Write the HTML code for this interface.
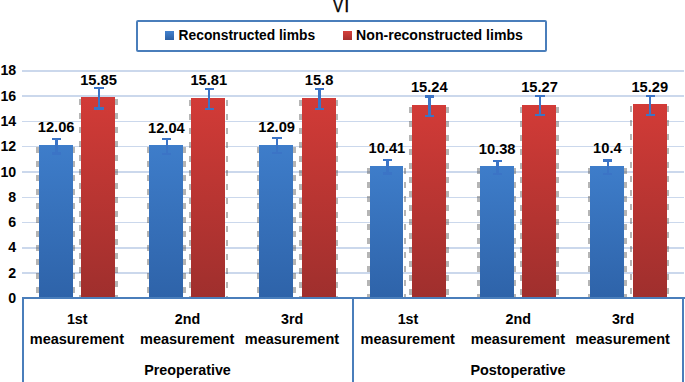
<!DOCTYPE html>
<html><head><meta charset="utf-8"><style>
html,body{margin:0;padding:0;background:#fff;}
body{width:685px;height:382px;overflow:hidden;position:relative;font-family:"Liberation Sans", sans-serif;}
.t{position:absolute;white-space:nowrap;}
.r{position:absolute;}
</style></head><body>
<div class="r" style="left:22.00px;top:272.40px;width:661.50px;height:1.60px;background:#cbd8ec;"></div>
<div class="r" style="left:22.00px;top:247.10px;width:661.50px;height:1.60px;background:#cbd8ec;"></div>
<div class="r" style="left:22.00px;top:221.80px;width:661.50px;height:1.60px;background:#cbd8ec;"></div>
<div class="r" style="left:22.00px;top:196.50px;width:661.50px;height:1.60px;background:#cbd8ec;"></div>
<div class="r" style="left:22.00px;top:171.20px;width:661.50px;height:1.60px;background:#cbd8ec;"></div>
<div class="r" style="left:22.00px;top:145.90px;width:661.50px;height:1.60px;background:#cbd8ec;"></div>
<div class="r" style="left:22.00px;top:120.60px;width:661.50px;height:1.60px;background:#cbd8ec;"></div>
<div class="r" style="left:22.00px;top:95.30px;width:661.50px;height:1.60px;background:#cbd8ec;"></div>
<div class="r" style="left:22.00px;top:70.00px;width:661.50px;height:1.60px;background:#cbd8ec;"></div>
<div class="t" style="left:-23.80px;top:291.08px;width:40px;font-size:14.2px;line-height:14.2px;text-align:right;font-weight:bold;color:#000;">0</div>
<div class="t" style="left:-23.80px;top:265.78px;width:40px;font-size:14.2px;line-height:14.2px;text-align:right;font-weight:bold;color:#000;">2</div>
<div class="t" style="left:-23.80px;top:240.48px;width:40px;font-size:14.2px;line-height:14.2px;text-align:right;font-weight:bold;color:#000;">4</div>
<div class="t" style="left:-23.80px;top:215.18px;width:40px;font-size:14.2px;line-height:14.2px;text-align:right;font-weight:bold;color:#000;">6</div>
<div class="t" style="left:-23.80px;top:189.88px;width:40px;font-size:14.2px;line-height:14.2px;text-align:right;font-weight:bold;color:#000;">8</div>
<div class="t" style="left:-23.80px;top:164.58px;width:40px;font-size:14.2px;line-height:14.2px;text-align:right;font-weight:bold;color:#000;">10</div>
<div class="t" style="left:-23.80px;top:139.28px;width:40px;font-size:14.2px;line-height:14.2px;text-align:right;font-weight:bold;color:#000;">12</div>
<div class="t" style="left:-23.80px;top:113.98px;width:40px;font-size:14.2px;line-height:14.2px;text-align:right;font-weight:bold;color:#000;">14</div>
<div class="t" style="left:-23.80px;top:88.68px;width:40px;font-size:14.2px;line-height:14.2px;text-align:right;font-weight:bold;color:#000;">16</div>
<div class="t" style="left:-23.80px;top:63.38px;width:40px;font-size:14.2px;line-height:14.2px;text-align:right;font-weight:bold;color:#000;">18</div>
<div class="r" style="left:38.92px;top:145.22px;width:33.80px;height:152.78px;background:linear-gradient(to bottom,#3e7dca,#2e63a9);"></div>
<div class="r" style="left:36.32px;top:147.22px;width:2.50px;height:150.28px;background:repeating-linear-gradient(to bottom, rgba(60,60,60,0.38) 0px, rgba(60,60,60,0.38) 6px, rgba(0,0,0,0) 6px, rgba(0,0,0,0) 14px);"></div>
<div class="r" style="left:72.82px;top:147.22px;width:2.50px;height:150.28px;background:repeating-linear-gradient(to bottom, rgba(60,60,60,0.38) 0px, rgba(60,60,60,0.38) 6px, rgba(0,0,0,0) 6px, rgba(0,0,0,0) 14px);"></div>
<div class="r" style="left:55.27px;top:138.67px;width:2.50px;height:14.90px;background:#3b74c6;"></div>
<div class="r" style="left:51.92px;top:137.57px;width:9.20px;height:2.20px;background:#3b74c6;"></div>
<div class="r" style="left:51.92px;top:152.47px;width:9.20px;height:2.20px;background:#3b74c6;"></div>
<div class="t" style="left:-43.88px;top:120.38px;width:200px;font-size:14.7px;line-height:14.7px;text-align:center;font-weight:bold;color:#000;">12.06</div>
<div class="r" style="left:81.22px;top:97.43px;width:34.00px;height:200.57px;background:linear-gradient(to bottom,#d23b37,#9f2f2d);"></div>
<div class="r" style="left:78.62px;top:99.43px;width:2.50px;height:198.07px;background:repeating-linear-gradient(to bottom, rgba(60,60,60,0.38) 0px, rgba(60,60,60,0.38) 6px, rgba(0,0,0,0) 6px, rgba(0,0,0,0) 14px);"></div>
<div class="r" style="left:115.32px;top:99.43px;width:2.50px;height:198.07px;background:repeating-linear-gradient(to bottom, rgba(60,60,60,0.38) 0px, rgba(60,60,60,0.38) 6px, rgba(0,0,0,0) 6px, rgba(0,0,0,0) 14px);"></div>
<div class="r" style="left:97.67px;top:88.18px;width:2.50px;height:20.30px;background:#3b74c6;"></div>
<div class="r" style="left:94.32px;top:87.08px;width:9.20px;height:2.20px;background:#3b74c6;"></div>
<div class="r" style="left:94.32px;top:107.38px;width:9.20px;height:2.20px;background:#3b74c6;"></div>
<div class="t" style="left:-1.48px;top:72.59px;width:200px;font-size:14.7px;line-height:14.7px;text-align:center;font-weight:bold;color:#000;">15.85</div>
<div class="r" style="left:149.18px;top:145.48px;width:33.80px;height:152.52px;background:linear-gradient(to bottom,#3e7dca,#2e63a9);"></div>
<div class="r" style="left:146.58px;top:147.48px;width:2.50px;height:150.02px;background:repeating-linear-gradient(to bottom, rgba(60,60,60,0.38) 0px, rgba(60,60,60,0.38) 6px, rgba(0,0,0,0) 6px, rgba(0,0,0,0) 14px);"></div>
<div class="r" style="left:183.08px;top:147.48px;width:2.50px;height:150.02px;background:repeating-linear-gradient(to bottom, rgba(60,60,60,0.38) 0px, rgba(60,60,60,0.38) 6px, rgba(0,0,0,0) 6px, rgba(0,0,0,0) 14px);"></div>
<div class="r" style="left:165.53px;top:138.93px;width:2.50px;height:14.90px;background:#3b74c6;"></div>
<div class="r" style="left:162.18px;top:137.83px;width:9.20px;height:2.20px;background:#3b74c6;"></div>
<div class="r" style="left:162.18px;top:152.73px;width:9.20px;height:2.20px;background:#3b74c6;"></div>
<div class="t" style="left:66.38px;top:120.63px;width:200px;font-size:14.7px;line-height:14.7px;text-align:center;font-weight:bold;color:#000;">12.04</div>
<div class="r" style="left:191.48px;top:97.94px;width:34.00px;height:200.06px;background:linear-gradient(to bottom,#d23b37,#9f2f2d);"></div>
<div class="r" style="left:188.88px;top:99.94px;width:2.50px;height:197.56px;background:repeating-linear-gradient(to bottom, rgba(60,60,60,0.38) 0px, rgba(60,60,60,0.38) 6px, rgba(0,0,0,0) 6px, rgba(0,0,0,0) 14px);"></div>
<div class="r" style="left:225.58px;top:99.94px;width:2.50px;height:197.56px;background:repeating-linear-gradient(to bottom, rgba(60,60,60,0.38) 0px, rgba(60,60,60,0.38) 6px, rgba(0,0,0,0) 6px, rgba(0,0,0,0) 14px);"></div>
<div class="r" style="left:207.93px;top:88.69px;width:2.50px;height:20.30px;background:#3b74c6;"></div>
<div class="r" style="left:204.58px;top:87.59px;width:9.20px;height:2.20px;background:#3b74c6;"></div>
<div class="r" style="left:204.58px;top:107.89px;width:9.20px;height:2.20px;background:#3b74c6;"></div>
<div class="t" style="left:108.78px;top:73.09px;width:200px;font-size:14.7px;line-height:14.7px;text-align:center;font-weight:bold;color:#000;">15.81</div>
<div class="r" style="left:259.44px;top:144.85px;width:33.80px;height:153.15px;background:linear-gradient(to bottom,#3e7dca,#2e63a9);"></div>
<div class="r" style="left:256.84px;top:146.85px;width:2.50px;height:150.65px;background:repeating-linear-gradient(to bottom, rgba(60,60,60,0.38) 0px, rgba(60,60,60,0.38) 6px, rgba(0,0,0,0) 6px, rgba(0,0,0,0) 14px);"></div>
<div class="r" style="left:293.34px;top:146.85px;width:2.50px;height:150.65px;background:repeating-linear-gradient(to bottom, rgba(60,60,60,0.38) 0px, rgba(60,60,60,0.38) 6px, rgba(0,0,0,0) 6px, rgba(0,0,0,0) 14px);"></div>
<div class="r" style="left:275.79px;top:138.30px;width:2.50px;height:14.90px;background:#3b74c6;"></div>
<div class="r" style="left:272.44px;top:137.20px;width:9.20px;height:2.20px;background:#3b74c6;"></div>
<div class="r" style="left:272.44px;top:152.10px;width:9.20px;height:2.20px;background:#3b74c6;"></div>
<div class="t" style="left:176.64px;top:120.00px;width:200px;font-size:14.7px;line-height:14.7px;text-align:center;font-weight:bold;color:#000;">12.09</div>
<div class="r" style="left:301.74px;top:98.06px;width:34.00px;height:199.94px;background:linear-gradient(to bottom,#d23b37,#9f2f2d);"></div>
<div class="r" style="left:299.14px;top:100.06px;width:2.50px;height:197.44px;background:repeating-linear-gradient(to bottom, rgba(60,60,60,0.38) 0px, rgba(60,60,60,0.38) 6px, rgba(0,0,0,0) 6px, rgba(0,0,0,0) 14px);"></div>
<div class="r" style="left:335.84px;top:100.06px;width:2.50px;height:197.44px;background:repeating-linear-gradient(to bottom, rgba(60,60,60,0.38) 0px, rgba(60,60,60,0.38) 6px, rgba(0,0,0,0) 6px, rgba(0,0,0,0) 14px);"></div>
<div class="r" style="left:318.19px;top:88.81px;width:2.50px;height:20.30px;background:#3b74c6;"></div>
<div class="r" style="left:314.84px;top:87.71px;width:9.20px;height:2.20px;background:#3b74c6;"></div>
<div class="r" style="left:314.84px;top:108.01px;width:9.20px;height:2.20px;background:#3b74c6;"></div>
<div class="t" style="left:219.04px;top:73.22px;width:200px;font-size:14.7px;line-height:14.7px;text-align:center;font-weight:bold;color:#000;">15.8</div>
<div class="r" style="left:369.70px;top:166.03px;width:33.80px;height:131.97px;background:linear-gradient(to bottom,#3e7dca,#2e63a9);"></div>
<div class="r" style="left:367.10px;top:168.03px;width:2.50px;height:129.47px;background:repeating-linear-gradient(to bottom, rgba(60,60,60,0.38) 0px, rgba(60,60,60,0.38) 6px, rgba(0,0,0,0) 6px, rgba(0,0,0,0) 14px);"></div>
<div class="r" style="left:403.60px;top:168.03px;width:2.50px;height:129.47px;background:repeating-linear-gradient(to bottom, rgba(60,60,60,0.38) 0px, rgba(60,60,60,0.38) 6px, rgba(0,0,0,0) 6px, rgba(0,0,0,0) 14px);"></div>
<div class="r" style="left:386.05px;top:160.33px;width:2.50px;height:13.20px;background:#3b74c6;"></div>
<div class="r" style="left:382.70px;top:159.23px;width:9.20px;height:2.20px;background:#3b74c6;"></div>
<div class="r" style="left:382.70px;top:172.43px;width:9.20px;height:2.20px;background:#3b74c6;"></div>
<div class="t" style="left:286.90px;top:141.19px;width:200px;font-size:14.7px;line-height:14.7px;text-align:center;font-weight:bold;color:#000;">10.41</div>
<div class="r" style="left:412.00px;top:105.12px;width:34.00px;height:192.88px;background:linear-gradient(to bottom,#d23b37,#9f2f2d);"></div>
<div class="r" style="left:409.40px;top:107.12px;width:2.50px;height:190.38px;background:repeating-linear-gradient(to bottom, rgba(60,60,60,0.38) 0px, rgba(60,60,60,0.38) 6px, rgba(0,0,0,0) 6px, rgba(0,0,0,0) 14px);"></div>
<div class="r" style="left:446.10px;top:107.12px;width:2.50px;height:190.38px;background:repeating-linear-gradient(to bottom, rgba(60,60,60,0.38) 0px, rgba(60,60,60,0.38) 6px, rgba(0,0,0,0) 6px, rgba(0,0,0,0) 14px);"></div>
<div class="r" style="left:428.45px;top:96.42px;width:2.50px;height:19.20px;background:#3b74c6;"></div>
<div class="r" style="left:425.10px;top:95.32px;width:9.20px;height:2.20px;background:#3b74c6;"></div>
<div class="r" style="left:425.10px;top:114.52px;width:9.20px;height:2.20px;background:#3b74c6;"></div>
<div class="t" style="left:329.30px;top:80.28px;width:200px;font-size:14.7px;line-height:14.7px;text-align:center;font-weight:bold;color:#000;">15.24</div>
<div class="r" style="left:479.96px;top:166.41px;width:33.80px;height:131.59px;background:linear-gradient(to bottom,#3e7dca,#2e63a9);"></div>
<div class="r" style="left:477.36px;top:168.41px;width:2.50px;height:129.09px;background:repeating-linear-gradient(to bottom, rgba(60,60,60,0.38) 0px, rgba(60,60,60,0.38) 6px, rgba(0,0,0,0) 6px, rgba(0,0,0,0) 14px);"></div>
<div class="r" style="left:513.86px;top:168.41px;width:2.50px;height:129.09px;background:repeating-linear-gradient(to bottom, rgba(60,60,60,0.38) 0px, rgba(60,60,60,0.38) 6px, rgba(0,0,0,0) 6px, rgba(0,0,0,0) 14px);"></div>
<div class="r" style="left:496.31px;top:160.71px;width:2.50px;height:13.20px;background:#3b74c6;"></div>
<div class="r" style="left:492.96px;top:159.61px;width:9.20px;height:2.20px;background:#3b74c6;"></div>
<div class="r" style="left:492.96px;top:172.81px;width:9.20px;height:2.20px;background:#3b74c6;"></div>
<div class="t" style="left:397.16px;top:141.56px;width:200px;font-size:14.7px;line-height:14.7px;text-align:center;font-weight:bold;color:#000;">10.38</div>
<div class="r" style="left:522.26px;top:104.75px;width:34.00px;height:193.25px;background:linear-gradient(to bottom,#d23b37,#9f2f2d);"></div>
<div class="r" style="left:519.66px;top:106.75px;width:2.50px;height:190.75px;background:repeating-linear-gradient(to bottom, rgba(60,60,60,0.38) 0px, rgba(60,60,60,0.38) 6px, rgba(0,0,0,0) 6px, rgba(0,0,0,0) 14px);"></div>
<div class="r" style="left:556.36px;top:106.75px;width:2.50px;height:190.75px;background:repeating-linear-gradient(to bottom, rgba(60,60,60,0.38) 0px, rgba(60,60,60,0.38) 6px, rgba(0,0,0,0) 6px, rgba(0,0,0,0) 14px);"></div>
<div class="r" style="left:538.71px;top:96.05px;width:2.50px;height:19.20px;background:#3b74c6;"></div>
<div class="r" style="left:535.36px;top:94.95px;width:9.20px;height:2.20px;background:#3b74c6;"></div>
<div class="r" style="left:535.36px;top:114.15px;width:9.20px;height:2.20px;background:#3b74c6;"></div>
<div class="t" style="left:439.56px;top:79.90px;width:200px;font-size:14.7px;line-height:14.7px;text-align:center;font-weight:bold;color:#000;">15.27</div>
<div class="r" style="left:590.22px;top:166.16px;width:33.80px;height:131.84px;background:linear-gradient(to bottom,#3e7dca,#2e63a9);"></div>
<div class="r" style="left:587.62px;top:168.16px;width:2.50px;height:129.34px;background:repeating-linear-gradient(to bottom, rgba(60,60,60,0.38) 0px, rgba(60,60,60,0.38) 6px, rgba(0,0,0,0) 6px, rgba(0,0,0,0) 14px);"></div>
<div class="r" style="left:624.12px;top:168.16px;width:2.50px;height:129.34px;background:repeating-linear-gradient(to bottom, rgba(60,60,60,0.38) 0px, rgba(60,60,60,0.38) 6px, rgba(0,0,0,0) 6px, rgba(0,0,0,0) 14px);"></div>
<div class="r" style="left:606.57px;top:160.46px;width:2.50px;height:13.20px;background:#3b74c6;"></div>
<div class="r" style="left:603.22px;top:159.36px;width:9.20px;height:2.20px;background:#3b74c6;"></div>
<div class="r" style="left:603.22px;top:172.56px;width:9.20px;height:2.20px;background:#3b74c6;"></div>
<div class="t" style="left:507.42px;top:141.31px;width:200px;font-size:14.7px;line-height:14.7px;text-align:center;font-weight:bold;color:#000;">10.4</div>
<div class="r" style="left:632.52px;top:104.49px;width:34.00px;height:193.51px;background:linear-gradient(to bottom,#d23b37,#9f2f2d);"></div>
<div class="r" style="left:629.92px;top:106.49px;width:2.50px;height:191.01px;background:repeating-linear-gradient(to bottom, rgba(60,60,60,0.38) 0px, rgba(60,60,60,0.38) 6px, rgba(0,0,0,0) 6px, rgba(0,0,0,0) 14px);"></div>
<div class="r" style="left:666.62px;top:106.49px;width:2.50px;height:191.01px;background:repeating-linear-gradient(to bottom, rgba(60,60,60,0.38) 0px, rgba(60,60,60,0.38) 6px, rgba(0,0,0,0) 6px, rgba(0,0,0,0) 14px);"></div>
<div class="r" style="left:648.97px;top:95.79px;width:2.50px;height:19.20px;background:#3b74c6;"></div>
<div class="r" style="left:645.62px;top:94.69px;width:9.20px;height:2.20px;background:#3b74c6;"></div>
<div class="r" style="left:645.62px;top:113.89px;width:9.20px;height:2.20px;background:#3b74c6;"></div>
<div class="t" style="left:549.82px;top:79.65px;width:200px;font-size:14.7px;line-height:14.7px;text-align:center;font-weight:bold;color:#000;">15.29</div>
<div class="r" style="left:21.50px;top:297.20px;width:663.00px;height:2.00px;background:#4a7ebb;"></div>
<div class="r" style="left:21.60px;top:297.20px;width:2.30px;height:85.00px;background:#4a7ebb;"></div>
<div class="r" style="left:352.10px;top:297.20px;width:2.20px;height:85.00px;background:#4a7ebb;"></div>
<div class="r" style="left:682.40px;top:297.20px;width:2.10px;height:85.00px;background:#4a7ebb;"></div>
<div class="t" style="left:-22.78px;top:311.50px;width:200px;font-size:14.3px;line-height:14.3px;text-align:center;font-weight:bold;color:#000;">1st</div>
<div class="t" style="left:-23.08px;top:331.73px;width:200px;font-size:14.5px;line-height:14.5px;text-align:center;font-weight:bold;color:#000;">measurement</div>
<div class="t" style="left:87.48px;top:311.50px;width:200px;font-size:14.3px;line-height:14.3px;text-align:center;font-weight:bold;color:#000;">2nd</div>
<div class="t" style="left:87.18px;top:331.73px;width:200px;font-size:14.5px;line-height:14.5px;text-align:center;font-weight:bold;color:#000;">measurement</div>
<div class="t" style="left:192.24px;top:311.50px;width:200px;font-size:14.3px;line-height:14.3px;text-align:center;font-weight:bold;color:#000;">3rd</div>
<div class="t" style="left:191.94px;top:331.73px;width:200px;font-size:14.5px;line-height:14.5px;text-align:center;font-weight:bold;color:#000;">measurement</div>
<div class="t" style="left:308.00px;top:311.50px;width:200px;font-size:14.3px;line-height:14.3px;text-align:center;font-weight:bold;color:#000;">1st</div>
<div class="t" style="left:307.70px;top:331.73px;width:200px;font-size:14.5px;line-height:14.5px;text-align:center;font-weight:bold;color:#000;">measurement</div>
<div class="t" style="left:418.26px;top:311.50px;width:200px;font-size:14.3px;line-height:14.3px;text-align:center;font-weight:bold;color:#000;">2nd</div>
<div class="t" style="left:417.96px;top:331.73px;width:200px;font-size:14.5px;line-height:14.5px;text-align:center;font-weight:bold;color:#000;">measurement</div>
<div class="t" style="left:523.02px;top:311.50px;width:200px;font-size:14.3px;line-height:14.3px;text-align:center;font-weight:bold;color:#000;">3rd</div>
<div class="t" style="left:522.72px;top:331.73px;width:200px;font-size:14.5px;line-height:14.5px;text-align:center;font-weight:bold;color:#000;">measurement</div>
<div class="t" style="left:87.50px;top:363.20px;width:200px;font-size:14.3px;line-height:14.3px;text-align:center;font-weight:bold;color:#000;">Preoperative</div>
<div class="t" style="left:418.00px;top:363.11px;width:200px;font-size:14.4px;line-height:14.4px;text-align:center;font-weight:bold;color:#000;">Postoperative</div>
<div class="t" style="left:238.30px;top:-2.20px;width:200px;font-size:16.3px;line-height:16.3px;text-align:center;font-weight:normal;color:#000;-webkit-text-stroke:0.45px #000;transform:scaleX(0.88);">V</div>
<div class="t" style="left:246.80px;top:-2.20px;width:200px;font-size:16.3px;line-height:16.3px;text-align:center;font-weight:normal;color:#000;-webkit-text-stroke:0.45px #000;">I</div>
<div class="r" style="left:136px;top:19.5px;width:407px;height:28.5px;border:2px solid #4a7ebb;border-radius:2px;"></div>
<div class="r" style="left:165.00px;top:31.00px;width:9.00px;height:9.00px;background:linear-gradient(to bottom,#4382cf,#2c5fa3);"></div>
<div class="r" style="left:343.00px;top:31.00px;width:9.00px;height:9.00px;background:linear-gradient(to bottom,#d6403b,#a52f2c);"></div>
<div class="t" style="left:178.60px;top:29.02px;width:200px;font-size:13.8px;line-height:13.8px;text-align:left;font-weight:bold;color:#000;">Reconstructed limbs</div>
<div class="t" style="left:356.10px;top:28.36px;width:220px;font-size:14.1px;line-height:14.1px;text-align:left;font-weight:bold;color:#000;">Non-reconstructed limbs</div>
</body></html>
